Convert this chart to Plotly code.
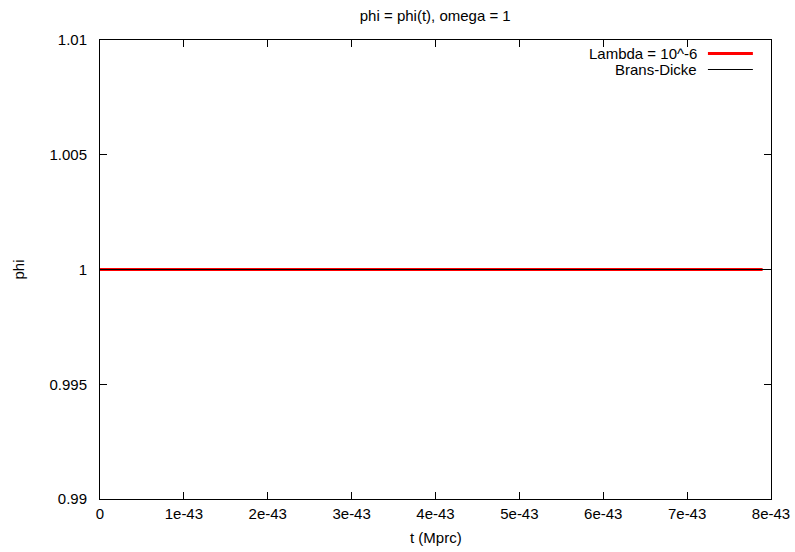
import plotly.graph_objects as go

# Scalar field phi(t) for omega = 1
t_lambda = [0.0, 7.9e-43]
phi_lambda = [1.0, 1.0]

t_bd = [0.0, 8.0e-43]
phi_bd = [1.0, 1.0]

x_ticks = [0, 1e-43, 2e-43, 3e-43, 4e-43, 5e-43, 6e-43, 7e-43, 8e-43]
x_tick_labels = ["0", "1e-43", "2e-43", "3e-43", "4e-43", "5e-43", "6e-43", "7e-43", "8e-43"]
y_ticks = [0.99, 0.995, 1.0, 1.005, 1.01]
y_tick_labels = ["0.99", "0.995", "1", "1.005", "1.01"]

series_names = ["Lambda = 10^-6", "Brans-Dicke"]
series_colors = ["#ff0000", "#000000"]
series_widths = [3, 1]

FONT = "Liberation Sans, Arial, sans-serif"
FS = 15

fig = go.Figure()
fig.add_trace(go.Scatter(x=t_lambda, y=phi_lambda, mode="lines", name=series_names[0],
                         line=dict(color=series_colors[0], width=series_widths[0]),
                         showlegend=False))
fig.add_trace(go.Scatter(x=t_bd, y=phi_bd, mode="lines", name=series_names[1],
                         line=dict(color=series_colors[1], width=series_widths[1]),
                         showlegend=False))

axis_common = dict(
    showline=True, linecolor="black", linewidth=1, mirror="allticks",
    ticks="inside", ticklen=7, tickcolor="black", tickwidth=1,
    showgrid=False, zeroline=False, automargin=False,
    tickfont=dict(family=FONT, size=FS, color="black"),
)

fig.update_xaxes(range=[0, 8e-43], tickmode="array", tickvals=x_ticks,
                 ticktext=x_tick_labels, ticklabelstandoff=1, **axis_common)
fig.update_yaxes(range=[0.99, 1.01], tickmode="array", tickvals=y_ticks,
                 ticktext=y_tick_labels, ticklabelstandoff=9, **axis_common)

# Legend drawn gnuplot-style: right-aligned text with the sample line to its right
legend_rows = [0.9706, 0.9357]
annotations = []
shapes = []
for name, color, width, yy in zip(series_names, series_colors, series_widths, legend_rows):
    annotations.append(dict(x=0.8927, y=yy, xref="paper", yref="paper", text=name,
                            showarrow=False, xanchor="right", yanchor="middle",
                            font=dict(family=FONT, size=FS, color="black")))
    shapes.append(dict(type="line", xref="paper", yref="paper", x0=0.906, x1=0.973,
                       y0=yy, y1=yy, line=dict(color=color, width=width)))

# Axis titles
annotations.append(dict(x=0.5, y=-38 / 459, xref="paper", yref="paper", text="t (Mprc)",
                        showarrow=False, xanchor="center", yanchor="middle",
                        font=dict(family=FONT, size=FS, color="black")))
annotations.append(dict(x=-82 / 671, y=0.5, xref="paper", yref="paper", text="phi",
                        showarrow=False, xanchor="center", yanchor="middle", textangle=-90,
                        font=dict(family=FONT, size=FS, color="black")))

fig.update_layout(
    width=795, height=552,
    margin=dict(l=100, r=24, t=40, b=53),
    paper_bgcolor="white", plot_bgcolor="white",
    title=dict(text="phi = phi(t), omega = 1", x=0.5475, xanchor="center",
               y=1 - 16 / 552, yanchor="middle", yref="container",
               font=dict(family=FONT, size=FS, color="black")),
    annotations=annotations, shapes=shapes,
    showlegend=False,
)

fig.write_html("out.html")
